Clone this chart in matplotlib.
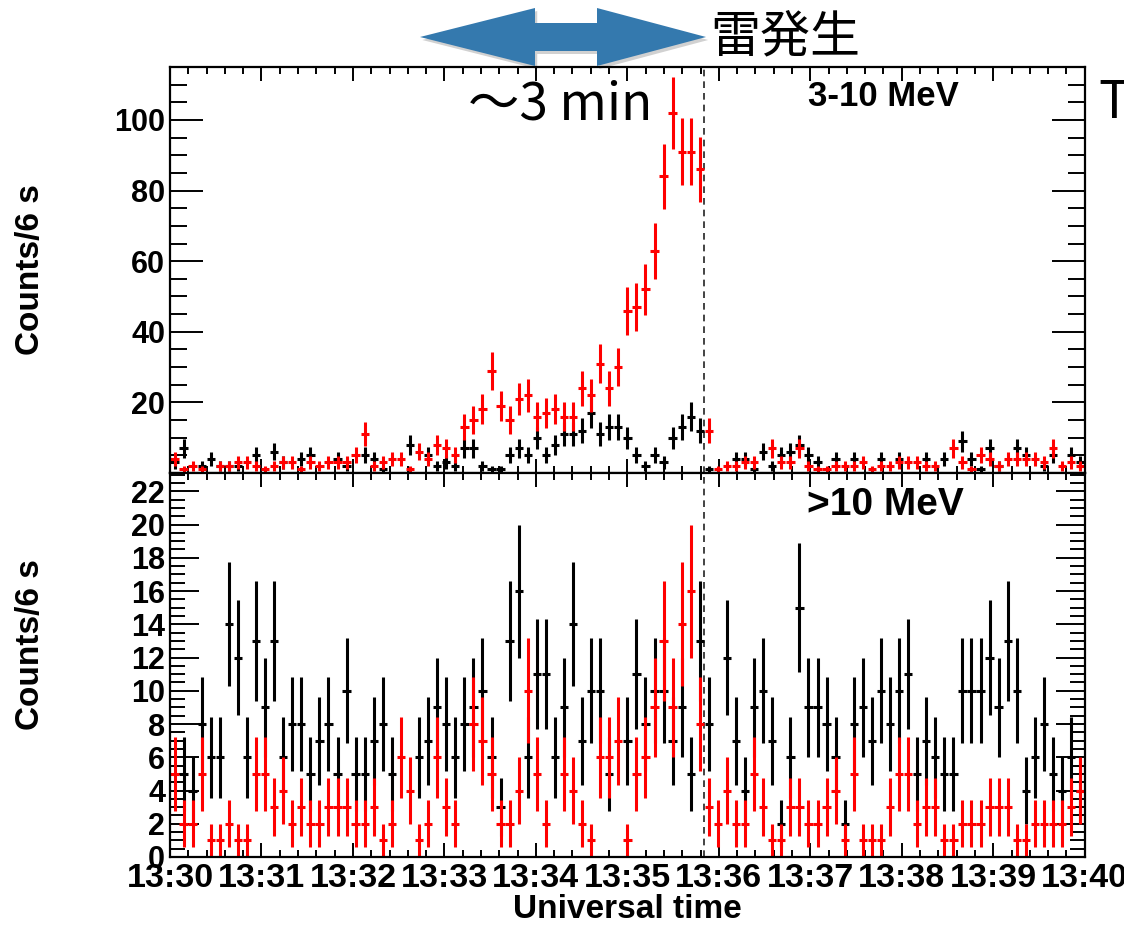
import numpy as np
import matplotlib.pyplot as plt
from matplotlib.patches import Polygon
from matplotlib.ticker import MultipleLocator

W, H = 1124, 926

# 101 bins over 13:30-13:40 (seconds after 13:30)
t_edges = np.linspace(0, 600, 102)
t_mid = 0.5 * (t_edges[1:] + t_edges[:-1])
half_bin = 0.5 * (t_edges[1] - t_edges[0])

# 3-10 MeV counts per bin (0 = not drawn)
low_black = [3, 7, 0, 2, 4, 2, 2, 2, 0, 5, 0, 6, 3, 0, 4, 5, 0, 0, 4, 2,
             0, 5, 4, 1, 0, 0, 8, 0, 5, 2, 3, 2, 7, 7, 2, 1, 1, 5, 7, 5,
             10, 5, 8, 11, 11, 12, 17, 11, 13, 13, 10, 5, 2, 5, 3, 10, 13, 16, 12, 1,
             0, 0, 4, 4, 1, 6, 2, 5, 6, 8, 5, 3, 0, 4, 0, 4, 0, 0, 4, 0,
             4, 0, 0, 4, 0, 4, 0, 9, 4, 1, 7, 2, 0, 7, 5, 0, 2, 5, 0, 5, 3]
low_red = [4, 1, 2, 1, 0, 2, 2, 3, 3, 2, 1, 2, 3, 3, 1, 3, 2, 3, 3, 3,
           5, 11, 2, 3, 4, 4, 1, 6, 4, 8, 7, 5, 13, 15, 18, 29, 19, 15, 21, 22,
           16, 17, 18, 16, 16, 24, 22, 31, 24, 30, 46, 47, 52, 63, 84, 102, 91, 91, 86, 12,
           1, 2, 2, 3, 3, 0, 7, 3, 3, 7, 2, 1, 1, 2, 2, 2, 3, 1, 2, 2,
           3, 3, 3, 2, 2, 0, 7, 3, 1, 5, 4, 2, 4, 4, 4, 4, 3, 7, 2, 3, 2]

# >10 MeV counts per bin
high_black = [0, 5, 4, 8, 6, 6, 14, 12, 6, 13, 9, 13, 6, 8, 8, 5, 7, 8, 5, 10,
              5, 5, 7, 8, 5, 0, 0, 6, 7, 9, 8, 6, 8, 9, 10, 6, 3, 13, 16, 6,
              11, 11, 6, 9, 14, 7, 10, 10, 5, 0, 7, 11, 8, 10, 10, 7, 9, 5, 13, 8,
              0, 12, 7, 4, 9, 10, 7, 2, 6, 15, 9, 9, 8, 6, 2, 8, 9, 7, 10, 8,
              10, 11, 5, 7, 6, 5, 5, 10, 10, 10, 12, 9, 13, 10, 4, 6, 8, 5, 4, 6, 4]
high_red = [5, 2, 2, 5, 1, 1, 2, 1, 1, 5, 5, 3, 4, 2, 3, 2, 2, 3, 3, 3,
            2, 2, 3, 1, 2, 6, 4, 1, 2, 6, 3, 2, 0, 8, 7, 5, 2, 2, 4, 10,
            5, 2, 0, 5, 4, 2, 1, 6, 6, 7, 1, 5, 6, 9, 13, 9, 14, 16, 8, 3,
            2, 4, 2, 2, 5, 3, 1, 1, 3, 3, 2, 2, 3, 4, 1, 5, 1, 1, 1, 3,
            5, 5, 2, 3, 3, 1, 1, 2, 2, 2, 3, 3, 3, 1, 1, 2, 2, 2, 2, 3, 4]

tick_labels = ['13:30', '13:31', '13:32', '13:33', '13:34', '13:35',
               '13:36', '13:37', '13:38', '13:39', '13:40']
t_lightning = 350.5

plt.rcParams['font.family'] = ['Liberation Sans', 'DejaVu Sans']
fig = plt.figure(figsize=(W / 100, H / 100), dpi=100)

ax1 = fig.add_axes([170 / W, 1 - 473 / H, 914.7 / W, 406 / H])
ax2 = fig.add_axes([170 / W, 1 - 857 / H, 914.7 / W, 384 / H])


def draw(ax, y, color):
    y = np.array(y, float)
    m = y > 0
    ax.errorbar(t_mid[m], y[m], yerr=np.sqrt(y[m]), xerr=half_bin * 0.92,
                fmt='none', ecolor=color, elinewidth=2.2, capsize=0)


for ax in (ax1, ax2):
    ax.set_xlim(0, 600)
    ax.set_xticks(np.arange(0, 601, 60))
    ax.xaxis.set_minor_locator(MultipleLocator(12))
    ax.tick_params(which='both', direction='in', top=True, right=True, width=1.4)
    ax.tick_params(axis='x', which='major', length=10)
    ax.tick_params(axis='x', which='minor', length=5)
    for s in ax.spines.values():
        s.set_linewidth(1.6)
    ax.axvline(t_lightning, color='#222222', lw=1.2, ls=(0, (4, 3)), zorder=1)

draw(ax1, low_black, 'black')
draw(ax1, low_red, 'red')
draw(ax2, high_black, 'black')
draw(ax2, high_red, 'red')

ax1.set_ylim(0, 115)
ax1.set_yticks(np.arange(20, 101, 20))
ax1.yaxis.set_minor_locator(MultipleLocator(5))
ax1.tick_params(axis='y', which='major', length=24, labelsize=22)
ax1.tick_params(axis='y', which='minor', length=12)
ax1.set_xticklabels([])

ax2.set_ylim(0, 23.1)
ax2.set_yticks(np.arange(0, 23, 2))
ax2.yaxis.set_minor_locator(MultipleLocator(0.5))
ax2.tick_params(axis='y', which='major', length=21, labelsize=22)
ax2.tick_params(axis='y', which='minor', length=11)
ax2.set_xticklabels(tick_labels)
ax2.tick_params(axis='x', which='major', labelsize=24.5, pad=4)

for ax in (ax1, ax2):
    for lab in ax.get_xticklabels() + ax.get_yticklabels():
        lab.set_fontweight('bold')

fig.text(883 / W, 1 - 96 / H, '3-10 MeV', ha='center', va='center',
         fontsize=25, fontweight='bold')
fig.text(885 / W, 1 - 505 / H, '>10 MeV', ha='center', va='center',
         fontsize=28, fontweight='bold')

fig.text(31 / W, 1 - 270 / H, 'Counts/6 s', rotation=90, ha='center', va='center',
         fontsize=24, fontweight='bold')
fig.text(31 / W, 1 - 645 / H, 'Counts/6 s', rotation=90, ha='center', va='center',
         fontsize=24, fontweight='bold')
fig.text(627 / W, 1 - 910 / H, 'Universal time', ha='center', va='center',
         fontsize=24, fontweight='bold')

# annotations
jp = ['Noto Sans CJK JP', 'DejaVu Sans']
fig.text(468 / W, 1 - 120 / H, '〜3 min', ha='left', va='baseline', fontsize=37, family=jp)
fig.text(710 / W, 1 - 37 / H, '雷発生', ha='left', va='center', fontsize=36, family=jp)
fig.text(1098 / W, 1 - 118 / H, 'T', ha='left', va='baseline', fontsize=37, family=jp)

arrow_px = [(420, 37), (535, 8), (535, 23), (597, 23), (597, 8), (706, 37),
            (597, 66), (597, 51), (535, 51), (535, 66)]
shadow = Polygon([(x / W + 0.002, 1 - (y + 3) / H) for x, y in arrow_px],
                 closed=True, transform=fig.transFigure, facecolor='#000000',
                 alpha=0.18, edgecolor='none')
arrow = Polygon([(x / W, 1 - y / H) for x, y in arrow_px], closed=True,
                transform=fig.transFigure, facecolor='#3479ae', edgecolor='none')
fig.patches.extend([shadow, arrow])

fig.savefig('out.png', dpi=100)
